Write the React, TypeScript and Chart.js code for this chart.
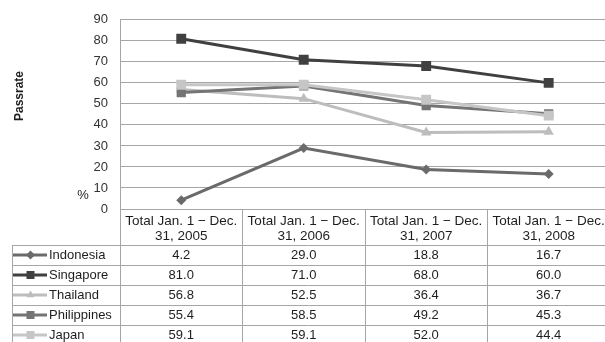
import React, { useEffect, useRef } from "react";
import { Chart, registerables } from "chart.js";

Chart.register(...registerables);

const categories: string[][] = [
  ["Total Jan. 1 − Dec.", "31, 2005"],
  ["Total Jan. 1 − Dec.", "31, 2006"],
  ["Total Jan. 1 − Dec.", "31, 2007"],
  ["Total Jan. 1 − Dec.", "31, 2008"],
];
const seriesNames = ["Indonesia", "Singapore", "Thailand", "Philippines", "Japan"];
const indonesia = [4.2, 29.0, 18.8, 16.7];
const singapore = [81.0, 71.0, 68.0, 60.0];
const thailand = [56.8, 52.5, 36.4, 36.7];
const philippines = [55.4, 58.5, 49.2, 45.3];
const japan = [59.1, 59.1, 52.0, 44.4];
const yMin = 0;
const yMax = 90;
const yStep = 10;
const yTitle = "Passrate";
const yUnit = "%";

const seriesValues = [indonesia, singapore, thailand, philippines, japan];
const lineColors = ["#6a6a6a", "#404040", "#bdbdbd", "#747474", "#c6c6c6"];
const markerStyles = ["rectRot", "rect", "triangle", "rect", "rect"];
const markerRadius = [5, 7, 6, 6.5, 7];

const GRID = "#a6a6a6";
const TEXT = "#1e1e1e";
const FONT = "'Liberation Sans', Arial, sans-serif";

function drawMarker(ctx: CanvasRenderingContext2D, style: string, x: number, y: number, r: number) {
  ctx.beginPath();
  if (style === "rectRot") {
    ctx.moveTo(x, y - r);
    ctx.lineTo(x + r, y);
    ctx.lineTo(x, y + r);
    ctx.lineTo(x - r, y);
  } else if (style === "triangle") {
    ctx.moveTo(x, y - r);
    ctx.lineTo(x + r * 0.87, y + r * 0.5);
    ctx.lineTo(x - r * 0.87, y + r * 0.5);
  } else {
    ctx.rect(x - r, y - r, 2 * r, 2 * r);
  }
  ctx.closePath();
  ctx.fill();
}

const tablePlugin = {
  id: "dataTable",
  afterDraw(chart: any) {
    const ctx: CanvasRenderingContext2D = chart.ctx;
    const xs = chart.scales.x;
    const ys = chart.scales.y;
    const area = chart.chartArea;
    const W = chart.width;
    const H = chart.height;
    const top = Math.round(ys.getPixelForValue(0));
    const headerH = 36;
    const rowH = 20;
    const leftEdge = 12;
    const bounds: number[] = [];
    for (let i = 0; i <= categories.length; i++) {
      bounds.push(Math.round(xs.getPixelForValue(i - 0.5)));
    }
    ctx.save();
    ctx.strokeStyle = GRID;
    ctx.lineWidth = 1;
    ctx.beginPath();
    for (const b of bounds) {
      if (b >= W) continue;
      ctx.moveTo(b + 0.5, top);
      ctx.lineTo(b + 0.5, H);
    }
    const bodyTop = top + headerH;
    ctx.moveTo(leftEdge + 0.5, bodyTop);
    ctx.lineTo(leftEdge + 0.5, H);
    for (let r = 0; r <= seriesNames.length; r++) {
      const yy = bodyTop + r * rowH;
      if (yy > H) continue;
      ctx.moveTo(leftEdge, yy + 0.5);
      ctx.lineTo(area.right, yy + 0.5);
    }
    ctx.stroke();

    ctx.fillStyle = TEXT;
    ctx.font = `13.5px ${FONT}`;
    ctx.textAlign = "center";
    ctx.textBaseline = "middle";
    categories.forEach((lines, i) => {
      const cx = xs.getPixelForValue(i);
      lines.forEach((ln, k) => {
        ctx.fillText(ln, cx, top + 12 + k * 15);
      });
    });

    ctx.font = `13px ${FONT}`;
    seriesNames.forEach((name, r) => {
      const cy = bodyTop + r * rowH + rowH / 2;
      ctx.strokeStyle = lineColors[r];
      ctx.lineWidth = 3;
      ctx.beginPath();
      ctx.moveTo(13, cy);
      ctx.lineTo(47, cy);
      ctx.stroke();
      ctx.fillStyle = lineColors[r];
      drawMarker(ctx, markerStyles[r], 30.5, cy, markerStyles[r] === "rect" ? 4 : 4.5);
      ctx.fillStyle = TEXT;
      ctx.textAlign = "left";
      ctx.fillText(name, 49, cy);
      ctx.textAlign = "center";
      seriesValues[r].forEach((v, i) => {
        ctx.fillText(v.toFixed(1), xs.getPixelForValue(i), cy);
      });
    });

    ctx.fillStyle = TEXT;
    ctx.font = `bold 12px ${FONT}`;
    ctx.save();
    ctx.translate(20, 96);
    ctx.rotate(-Math.PI / 2);
    ctx.textAlign = "center";
    ctx.textBaseline = "middle";
    ctx.fillText(yTitle, 0, 0);
    ctx.restore();
    ctx.font = `13px ${FONT}`;
    ctx.textAlign = "center";
    ctx.textBaseline = "middle";
    ctx.fillText(yUnit, 83, 195);
    ctx.restore();
  },
};

export default function App() {
  const ref = useRef<HTMLCanvasElement | null>(null);
  useEffect(() => {
    document.body.style.margin = "0";
    const canvas = ref.current;
    if (!canvas) return;
    const datasets = seriesNames.map((name, i) => ({
      label: name,
      data: seriesValues[i].map((v, k) => ({ x: k, y: v })),
      borderColor: lineColors[i],
      backgroundColor: lineColors[i],
      pointBackgroundColor: lineColors[i],
      pointBorderColor: lineColors[i],
      pointBorderWidth: 0,
      borderWidth: 3,
      pointStyle: markerStyles[i],
      pointRadius: markerRadius[i],
      tension: 0,
      order: seriesNames.length - 1 - i,
    }));
    const chart = new Chart(canvas, {
      type: "line",
      data: { datasets },
      plugins: [tablePlugin],
      options: {
        responsive: false,
        animation: false,
        devicePixelRatio: 1,
        layout: { autoPadding: false, padding: { left: 0, top: 19, right: 0, bottom: 133 } },
        plugins: { legend: { display: false }, tooltip: { enabled: false } },
        scales: {
          x: {
            type: "linear",
            display: false,
            min: -0.5,
            max: 3.46,
          },
          y: {
            min: yMin,
            max: yMax,
            afterFit: (s: any) => {
              s.width = 120;
            },
            ticks: {
              stepSize: yStep,
              padding: 12,
              color: "#333",
              font: { size: 13, family: FONT },
            },
            grid: { color: GRID, drawTicks: false, lineWidth: 1 },
            border: { color: GRID, width: 1 },
          },
        },
      },
    });
    return () => chart.destroy();
  }, []);
  return (
    <div style={{ position: "fixed", left: 0, top: 0, width: 605, height: 342, background: "#fff", overflow: "hidden" }}>
      <canvas ref={ref} width={605} height={342} style={{ display: "block" }} />
    </div>
  );
}
